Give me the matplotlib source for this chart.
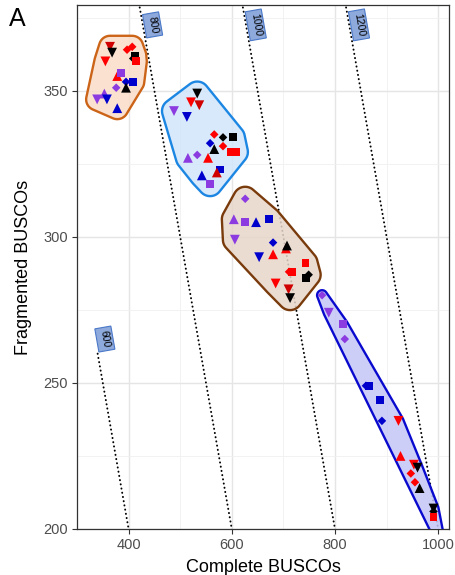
import numpy as np
import matplotlib
matplotlib.use("Agg")
import matplotlib.pyplot as plt
from matplotlib.patches import Polygon

plt.rcParams['font.family'] = ['Liberation Sans', 'DejaVu Sans']

# ---------------- data ----------------
# group 1 (orange hull)
g1_shape = ['v', 'v', 'v', 'D', 'D', 's', 'D', 's', '^', 's', 'D', '^', 's', 'D', 'v', '^', 'v', '^']
g1_color = ['dr', 'k', 'r', 'r', 'r', 'k', 'k', 'r', 'r', 'p', 'b', 'k', 'b', 'p', 'p', 'p', 'b', 'b']
g1_complete = [364, 368, 355, 397, 407, 413, 409, 414, 378, 386, 395, 395, 409, 376, 339, 353, 358, 378]
g1_fragmented = [365, 363, 360, 364, 365, 362, 361, 360, 355, 356, 353, 351, 353, 351, 347, 349, 347, 344]

# group 2 (light blue hull)
g2_shape = ['v', 'v', 'v', 'v', 'v', 'D', 'D', 's', 'D', 'D', '^', 's', 's', '^', '^', 'D', 's', '^', '^', 's']
g2_color = ['k', 'r', 'dr', 'p', 'b', 'r', 'k', 'k', 'b', 'r', 'k', 'r', 'r', 'r', 'p', 'p', 'b', 'dr', 'b', 'p']
g2_complete = [533, 521, 537, 488, 513, 566, 583, 602, 558, 583, 566, 598, 608, 554, 515, 533, 577, 571, 542, 558]
g2_fragmented = [349, 346, 345, 343, 341, 335, 334, 334, 332, 331, 330, 329, 329, 327, 327, 328, 323, 322, 321, 318]

# group 3 (brown hull)
g3_shape = ['D', '^', 's', '^', 's', 'v', 'D', '^', '^', '^', 'v', 's', 'D', 's', 's', 'D', 'v', 'v', 'v']
g3_color = ['p', 'p', 'p', 'b', 'b', 'p', 'b', 'r', 'k', 'r', 'b', 'r', 'r', 'r', 'k', 'k', 'r', 'dr', 'k']
g3_complete = [626, 604, 626, 647, 672, 606, 680, 705, 707, 680, 653, 743, 711, 717, 744, 749, 685, 710, 713]
g3_fragmented = [313, 306, 305, 305, 306, 299, 298, 296, 297, 294, 293, 291, 288, 288, 286, 287, 284, 282, 279]

# group 4 (dark blue hull)
g4_shape = ['D', 'v', 's', 'D', 'D', 's', 's', 'D', 'v', '^', 'v', 'v', 'D', 'D', '^', 'v', 'D', 's', 's']
g4_color = ['p', 'p', 'p', 'p', 'b', 'b', 'b', 'b', 'r', 'r', 'r', 'k', 'r', 'r', 'k', 'k', 'k', 'r', 'r']
g4_complete = [775, 788, 815, 819, 860, 866, 887, 891, 923, 927, 953, 960, 947, 955, 964, 991, 991, 991, 1002]
g4_fragmented = [280, 274, 270, 265, 249, 249, 244, 237, 237, 225, 222, 221, 219, 216, 214, 207, 206, 204, 197]

# iso-total lines (Complete + Fragmented = total)
totals = [600, 800, 1000, 1200]
total_labels = ['600', '800', '1000', '1200']

x_ticks = [400, 600, 800, 1000]
y_ticks = [200, 250, 300, 350]

# ---------------- styles ----------------
point_colors = {'k': '#000000', 'r': '#FF0000', 'dr': '#D00000', 'b': '#0000CD', 'p': '#8B3BE0'}
marker_sizes = {'v': 50, '^': 50, 's': 32, 'D': 19}
hull_styles = [
    dict(ec='#CC6418', fc='#FADCC8', r=11),
    dict(ec='#1C86E3', fc='#D0E6FA', r=12),
    dict(ec='#7A3B0C', fc='#E8D6C9', r=12),
    dict(ec='#0A0ACF', fc='#C3C6F6', r=5),
]

fig = plt.figure(figsize=(4.56, 5.75), dpi=100)
ax = fig.add_axes([77 / 456, 1 - 529 / 575, 372 / 456, 524 / 575])
ax.set_xlim(300, 1021)
ax.set_ylim(200, 379.3)

ax.set_xticks(x_ticks)
ax.set_yticks(y_ticks)
ax.set_xticks([500, 700, 900], minor=True)
ax.set_yticks([225, 275, 325, 375], minor=True)
ax.grid(True, which='major', color='#E5E5E5', lw=1.0, zorder=0)
ax.grid(True, which='minor', color='#F0F0F0', lw=0.6, zorder=0)
ax.set_axisbelow(True)
ax.tick_params(which='major', direction='out', length=3.3, width=0.8, color='#333333',
               labelsize=10.5, labelcolor='#4D4D4D', pad=3)
ax.tick_params(which='minor', length=0)
for s in ax.spines.values():
    s.set_color('#333333')
    s.set_linewidth(0.9)

# iso lines
for t, lab in zip(totals, total_labels):
    if t == 600:
        c = np.array([340, 400])
        fl = 265
    else:
        c = np.array([t - 385, t - 195])
        fl = 372.5
    ax.plot(c, t - c, color='black', lw=1.4, linestyle=(0, (0.1, 2.1)),
            dash_capstyle='round', zorder=1)
    ax.text(t - fl + 19, fl, lab, rotation=-80, ha='center', va='center', fontsize=7.5,
            color='black', rotation_mode='anchor', zorder=2,
            bbox=dict(boxstyle='square,pad=0.3', fc='#8EA9DB', ec='#4A78C8', lw=0.8))


def convex_hull(points):
    pts = sorted(map(tuple, points))
    def cross(o, a, b):
        return (a[0] - o[0]) * (b[1] - o[1]) - (a[1] - o[1]) * (b[0] - o[0])
    lower = []
    for p in pts:
        while len(lower) >= 2 and cross(lower[-2], lower[-1], p) <= 0:
            lower.pop()
        lower.append(p)
    upper = []
    for p in reversed(pts):
        while len(upper) >= 2 and cross(upper[-2], upper[-1], p) <= 0:
            upper.pop()
        upper.append(p)
    return np.array(lower[:-1] + upper[:-1])


def rounded_hull(xs, ys, r):
    pix = ax.transData.transform(np.column_stack([xs, ys]))
    ang = np.linspace(0, 2 * np.pi, 40, endpoint=False)
    circ = np.column_stack([np.cos(ang), np.sin(ang)]) * r
    allp = (pix[:, None, :] + circ[None, :, :]).reshape(-1, 2)
    h = convex_hull(allp)
    return ax.transData.inverted().transform(h)


groups = [
    (g1_complete, g1_fragmented, g1_shape, g1_color),
    (g2_complete, g2_fragmented, g2_shape, g2_color),
    (g3_complete, g3_fragmented, g3_shape, g3_color),
    (g4_complete, g4_fragmented, g4_shape, g4_color),
]

for (cx, fy, sh, co), st in zip(groups, hull_styles):
    poly = rounded_hull(cx, fy, st['r'])
    ax.add_patch(Polygon(poly, closed=True, fc=st['fc'], ec='none', alpha=0.85, zorder=3))
    ax.add_patch(Polygon(poly, closed=True, fc='none', ec=st['ec'], lw=1.7, zorder=4))

for (cx, fy, sh, co) in groups:
    for x, y, m, c in zip(cx, fy, sh, co):
        ax.scatter([x], [y], marker=m, s=marker_sizes[m], color=point_colors[c],
                   edgecolors='none', zorder=5)

fig.text(263 / 456, 1 - 571.5 / 575, 'Complete BUSCOs', ha='center', va='baseline', fontsize=13)
fig.text(23.5 / 456, 1 - 267 / 575, 'Fragmented BUSCOs', ha='center', va='center',
         rotation=90, fontsize=13)
fig.text(17.5 / 456, 1 - 19 / 575, 'A', ha='center', va='center', fontsize=18)

fig.savefig('out.png', dpi=100)
